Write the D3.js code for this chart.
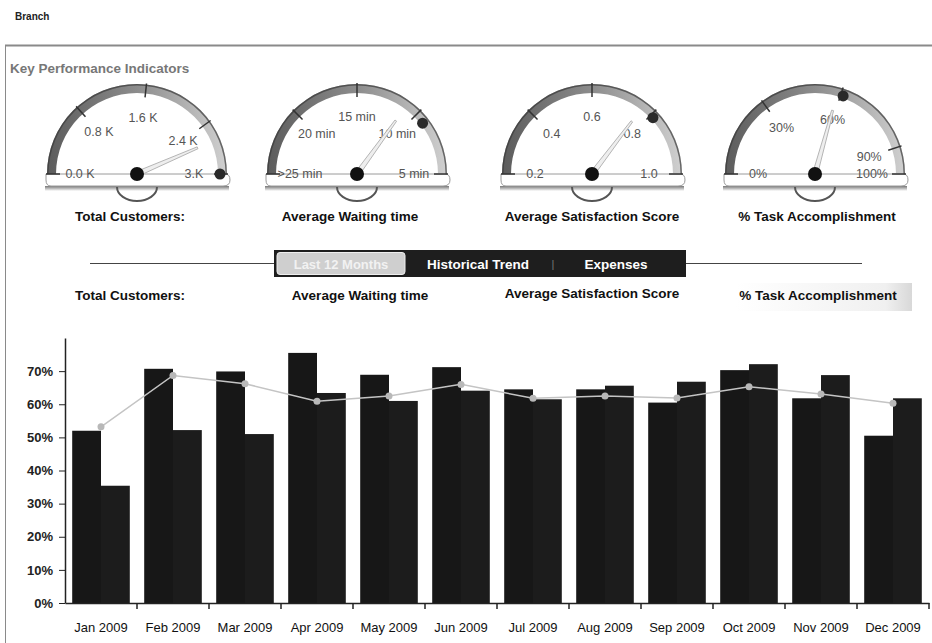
<!DOCTYPE html>
<html>
<head>
<meta charset="utf-8">
<script src="https://cdn.jsdelivr.net/npm/d3@7/dist/d3.min.js"></script>
<style>
  body { margin: 0; background: #fff; }
  svg { display: block; font-family: "Liberation Sans", Arial, sans-serif; }
</style>
</head>
<body>
<div id="chart"></div>
<script>
// bar chart data
const months = ['Jan 2009', 'Feb 2009', 'Mar 2009', 'Apr 2009', 'May 2009', 'Jun 2009',
  'Jul 2009', 'Aug 2009', 'Sep 2009', 'Oct 2009', 'Nov 2009', 'Dec 2009'];
const seriesA = [52, 70.7, 69.9, 75.5, 68.9, 71.2, 64.5, 64.5, 60.5, 70.3, 61.8, 50.5];
const seriesB = [35.4, 52.2, 51, 63.4, 61, 64.1, 61.5, 65.6, 66.8, 72.1, 68.8, 61.8];
const lineVals = [53.2, 68.7, 66.2, 60.9, 62.5, 66, 61.8, 62.5, 61.9, 65.3, 63.1, 60.3];
const yTicks = [0, 10, 20, 30, 40, 50, 60, 70];

// gauges
const gaugeNames = ['Total Customers:', 'Average Waiting time', 'Average Satisfaction Score', '% Task Accomplishment'];
const gaugeMin = [0, 25, 0.2, 0];
const gaugeMax = [3000, 5, 1.0, 100];
const gaugeTicks = [[0, 800, 1600, 2400, 3000], [25, 20, 15, 10, 5], [0.2, 0.4, 0.6, 0.8, 1.0], [0, 30, 60, 90, 100]];
const gaugeTickLabels = [['0.0 K', '0.8 K', '1.6 K', '2.4 K', '3.K'],
  ['>25 min', '20 min', '15 min', '10 min', '5 min'],
  ['0.2', '0.4', '0.6', '0.8', '1.0'],
  ['0%', '30%', '60%', '90%', '100%']];
const gaugeValues = [2610, 11, 0.765, 58.6];
const gaugeMarkers = [3000, 9.2, 0.81, 61];

const tabs = ['Last 12 Months', 'Historical Trend', 'Expenses'];

const width = 932, height = 643;

const svg = d3.select('#chart').append('svg')
  .attr('width', width)
  .attr('height', height);

const defs = svg.append('defs');
const bandGrad = defs.append('linearGradient').attr('id', 'band')
  .attr('x1', '0%').attr('x2', '100%').attr('y1', '0%').attr('y2', '0%');
bandGrad.append('stop').attr('offset', '0%').attr('stop-color', '#5c5c5c');
bandGrad.append('stop').attr('offset', '50%').attr('stop-color', '#8c8c8c');
bandGrad.append('stop').attr('offset', '100%').attr('stop-color', '#d0d0d0');
const shadowGrad = defs.append('linearGradient').attr('id', 'shade')
  .attr('x1', '0%').attr('x2', '0%').attr('y1', '0%').attr('y2', '100%');
shadowGrad.append('stop').attr('offset', '0%').attr('stop-color', '#777');
shadowGrad.append('stop').attr('offset', '100%').attr('stop-color', '#fff');
const fadeGrad = defs.append('linearGradient').attr('id', 'fade')
  .attr('x1', '0%').attr('x2', '100%');
fadeGrad.append('stop').attr('offset', '0%').attr('stop-color', '#fff');
fadeGrad.append('stop').attr('offset', '85%').attr('stop-color', '#f0f0f0');
fadeGrad.append('stop').attr('offset', '100%').attr('stop-color', '#d8d8d8');

// page header and frame
svg.append('text').attr('x', 15).attr('y', 20)
  .style('font-size', '10px').style('font-weight', 'bold').style('fill', '#222')
  .text('Branch');

svg.append('line').attr('x1', 5).attr('x2', width).attr('y1', 45.5).attr('y2', 45.5)
  .attr('stroke', '#8a8a8a').attr('stroke-width', 2);
svg.append('line').attr('x1', 5.5).attr('x2', 5.5).attr('y1', 45).attr('y2', height)
  .attr('stroke', '#8a8a8a').attr('stroke-width', 1);

svg.append('text').attr('x', 10).attr('y', 73)
  .style('font-size', '13.5px').style('font-weight', 'bold').style('fill', '#777')
  .text('Key Performance Indicators');

// gauges
const centers = [137, 357, 592, 815];
const cy = 174;
const rOut = 90, rIn = 81;
const labelX = [130, 350, 592, 817];

gaugeNames.forEach((name, i) => {
  const cx = centers[i];
  const g = svg.append('g').attr('transform', `translate(${cx},${cy})`);
  const ang = d3.scaleLinear().domain([gaugeMin[i], gaugeMax[i]]).range([-Math.PI / 2, Math.PI / 2]);
  const pt = (v, r) => [r * Math.sin(ang(v)), -r * Math.cos(ang(v))];

  // base plate
  g.append('rect').attr('x', -rOut - 2).attr('y', 12).attr('width', 2 * rOut + 4).attr('height', 5)
    .attr('fill', 'url(#shade)');
  g.append('path')
    .attr('d', `M${-rOut - 1},0 H${rOut - 2} Q${rOut + 3},0 ${rOut + 3},6 Q${rOut + 3},12 ${rOut - 4},12 H${-rOut + 4} Q${-rOut - 1},12 ${-rOut - 1},6 Z`)
    .attr('fill', '#fff').attr('stroke', '#9a9a9a').attr('stroke-width', 1);
  g.append('path')
    .attr('d', `M-20,13 A20,14 0 0 0 20,13`)
    .attr('fill', 'none').attr('stroke', '#555').attr('stroke-width', 2);

  // arc band
  g.append('path')
    .attr('d', d3.arc().innerRadius(rIn).outerRadius(rOut).startAngle(-Math.PI / 2).endAngle(Math.PI / 2)())
    .attr('fill', 'url(#band)');
  g.append('path')
    .attr('d', d3.arc().innerRadius(rOut - 1.5).outerRadius(rOut).startAngle(-Math.PI / 2).endAngle(Math.PI / 2)())
    .attr('fill', '#3a3a3a').attr('opacity', 0.7);

  // ticks and labels
  gaugeTicks[i].forEach((t, j) => {
    const a = pt(t, rIn - 4), b = pt(t, rOut + 1);
    g.append('line').attr('x1', a[0]).attr('y1', a[1]).attr('x2', b[0]).attr('y2', b[1])
      .attr('stroke', '#333').attr('stroke-width', 1.5);
    const p = pt(t, 57);
    g.append('text').attr('x', p[0]).attr('y', p[1]).attr('dy', '0.35em')
      .attr('text-anchor', 'middle')
      .style('font-size', '12.5px').style('fill', '#555')
      .text(gaugeTickLabels[i][j]);
  });

  // marker dot
  const m = pt(gaugeMarkers[i], 83);
  g.append('circle').attr('cx', m[0]).attr('cy', m[1]).attr('r', 5.5).attr('fill', '#2a2a2a');

  // needle
  const a0 = ang(gaugeValues[i]);
  const tip = pt(gaugeValues[i], 66);
  const px = Math.cos(a0), py = Math.sin(a0);
  g.append('path')
    .attr('d', `M${-px * 2.5},${-py * 2.5} L${tip[0] - px},${tip[1] - py} L${tip[0] + px},${tip[1] + py} L${px * 2.5},${py * 2.5} Z`)
    .attr('fill', '#eeeeee').attr('stroke', '#b5b5b5').attr('stroke-width', 1);
  g.append('circle').attr('r', 7).attr('fill', '#111');

  svg.append('text').attr('x', labelX[i]).attr('y', 221).attr('text-anchor', 'middle')
    .style('font-size', '13.5px').style('font-weight', 'bold').style('fill', '#111')
    .text(name);
});

// tab bar
svg.append('line').attr('x1', 90).attr('x2', 274).attr('y1', 263.5).attr('y2', 263.5)
  .attr('stroke', '#444').attr('stroke-width', 1);
svg.append('line').attr('x1', 686).attr('x2', 862).attr('y1', 263.5).attr('y2', 263.5)
  .attr('stroke', '#444').attr('stroke-width', 1);
svg.append('rect').attr('x', 274).attr('y', 250).attr('width', 412).attr('height', 27)
  .attr('fill', '#1e1e1e');
svg.append('rect').attr('x', 277).attr('y', 252.5).attr('width', 128).attr('height', 22).attr('rx', 3)
  .attr('fill', '#cfcfcf').attr('stroke', '#eee');
svg.append('text').attr('x', 341).attr('y', 268.5).attr('text-anchor', 'middle')
  .style('font-size', '13px').style('font-weight', 'bold').style('fill', '#f2f2f2')
  .text(tabs[0]);
svg.append('text').attr('x', 478).attr('y', 268.5).attr('text-anchor', 'middle')
  .style('font-size', '13.5px').style('font-weight', 'bold').style('fill', '#fff')
  .text(tabs[1]);
svg.append('text').attr('x', 553).attr('y', 268).attr('text-anchor', 'middle')
  .style('font-size', '11px').style('fill', '#777').text('|');
svg.append('text').attr('x', 616).attr('y', 268.5).attr('text-anchor', 'middle')
  .style('font-size', '13.5px').style('font-weight', 'bold').style('fill', '#fff')
  .text(tabs[2]);

// second label row
svg.append('rect').attr('x', 736).attr('y', 283).attr('width', 176).attr('height', 28)
  .attr('fill', 'url(#fade)');
const row2X = [130, 360, 592, 818];
gaugeNames.forEach((name, i) => {
  svg.append('text').attr('x', row2X[i]).attr('y', i === 2 ? 298 : 300)
    .attr('text-anchor', 'middle')
    .style('font-size', '13.5px').style('font-weight', 'bold').style('fill', '#111')
    .text(name);
});

// bar chart
const x = d3.scaleBand().domain(months).range([65, 929]).paddingInner(0.2).paddingOuter(0.1);
const xs = d3.scaleBand().domain(['a', 'b']).range([0, x.bandwidth()]);
const y = d3.scaleLinear().domain([0, 80]).range([603, 338]);

const chart = svg.append('g');

chart.selectAll('.barA').data(seriesA).enter().append('rect')
  .attr('x', (d, i) => x(months[i]) + xs('a'))
  .attr('y', d => y(d))
  .attr('width', xs.bandwidth())
  .attr('height', d => y(0) - y(d))
  .attr('fill', '#171717');

chart.selectAll('.barB').data(seriesB).enter().append('rect')
  .attr('x', (d, i) => x(months[i]) + xs('b'))
  .attr('y', d => y(d))
  .attr('width', xs.bandwidth())
  .attr('height', d => y(0) - y(d))
  .attr('fill', '#1c1c1c');

const line = d3.line()
  .x((d, i) => x(months[i]) + x.bandwidth() / 2)
  .y(d => y(d));

chart.append('path').datum(lineVals)
  .attr('d', line)
  .attr('fill', 'none').attr('stroke', '#c4c4c4').attr('stroke-width', 1.5);

chart.selectAll('.pt').data(lineVals).enter().append('circle')
  .attr('cx', (d, i) => x(months[i]) + x.bandwidth() / 2)
  .attr('cy', d => y(d))
  .attr('r', 3.5)
  .attr('fill', '#b8b8b8');

// y axis
const yAxis = chart.append('g').attr('transform', 'translate(65,0)')
  .call(d3.axisLeft(y).tickValues(yTicks).tickFormat(d => d + '%').tickSize(6).tickSizeOuter(0).tickPadding(6));
yAxis.select('.domain').attr('stroke', '#222').attr('stroke-width', 1.5);
yAxis.selectAll('.tick line').attr('stroke', '#222');
yAxis.selectAll('text').style('font-size', '13px').style('font-weight', 'bold').style('fill', '#222')
  .style('font-family', '"Liberation Sans", Arial, sans-serif');

// x axis
const xAxis = chart.append('g').attr('transform', 'translate(0,603)')
  .call(d3.axisBottom(x).tickSize(0).tickPadding(20));
xAxis.select('.domain').attr('stroke', '#222').attr('stroke-width', 1.5);
xAxis.selectAll('text').style('font-size', '13px').style('fill', '#111')
  .style('font-family', '"Liberation Sans", Arial, sans-serif');

chart.selectAll('.xtick').data(months).enter().append('line')
  .attr('x1', (d, i) => x.range()[0] + x.step() * (i + 1))
  .attr('x2', (d, i) => x.range()[0] + x.step() * (i + 1))
  .attr('y1', 603).attr('y2', 609)
  .attr('stroke', '#222').attr('stroke-width', 1.5);
</script>
</body>
</html>
